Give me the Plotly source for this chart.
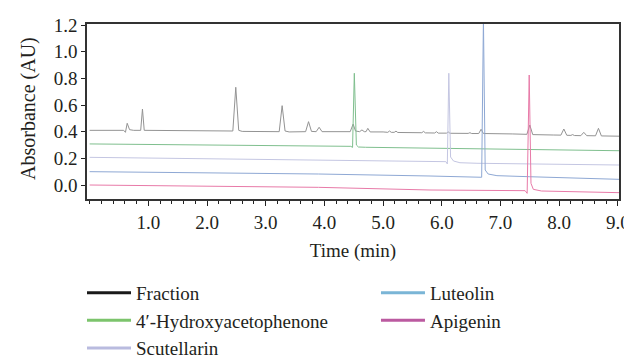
import plotly.graph_objects as go

# ---- data ----
series_names = ["Fraction", "4\u2032-Hydroxyacetophenone", "Scutellarin", "Luteolin", "Apigenin"]

fraction_t = [0.00, 0.58, 0.61, 0.64, 0.68, 0.75, 0.87, 0.90, 0.93, 1.50,
              2.20, 2.44, 2.49, 2.54, 2.60, 3.00, 3.23, 3.28, 3.33, 3.40,
              3.68, 3.73, 3.78, 3.86, 3.91, 3.96, 4.20, 4.44, 4.49, 4.53,
              4.60, 4.64, 4.68, 4.71, 4.74, 4.78, 5.00, 5.08, 5.11, 5.14,
              5.19, 5.22, 5.25, 5.66, 5.69, 5.72, 5.88, 5.91, 5.94, 6.08,
              6.11, 6.14, 6.45, 6.48, 6.51, 6.63, 6.67, 6.71, 7.20, 7.45,
              7.50, 7.55, 7.90, 8.03, 8.08, 8.13, 8.20, 8.23, 8.26, 8.37,
              8.42, 8.47, 8.62, 8.67, 8.72, 9.02]
fraction_y = [0.410, 0.410, 0.395, 0.463, 0.415, 0.410, 0.410, 0.570, 0.410, 0.410,
              0.405, 0.405, 0.733, 0.410, 0.402, 0.402, 0.400, 0.595, 0.405, 0.398,
              0.400, 0.475, 0.402, 0.400, 0.433, 0.400, 0.400, 0.400, 0.457, 0.405,
              0.400, 0.413, 0.400, 0.400, 0.425, 0.398, 0.398, 0.395, 0.405, 0.395,
              0.395, 0.404, 0.394, 0.392, 0.402, 0.391, 0.390, 0.400, 0.389, 0.389,
              0.398, 0.388, 0.387, 0.392, 0.386, 0.386, 0.418, 0.386, 0.383, 0.380,
              0.450, 0.378, 0.375, 0.374, 0.420, 0.373, 0.372, 0.378, 0.371, 0.370,
              0.395, 0.370, 0.369, 0.425, 0.368, 0.366]

hydroxy_t = [0.00, 2.00, 3.90, 4.45, 4.48, 4.51, 4.545, 4.58, 4.70, 5.80, 7.00, 9.02]
hydroxy_y = [0.308, 0.300, 0.292, 0.290, 0.282, 0.838, 0.300, 0.285, 0.283, 0.275, 0.268, 0.257]

scutellarin_t = [0.00, 2.00, 3.90, 5.00, 6.07, 6.095, 6.12, 6.15, 6.20, 6.31, 6.60, 7.50, 9.02]
scutellarin_y = [0.2075, 0.198, 0.1875, 0.182, 0.175, 0.158, 0.838, 0.210, 0.180, 0.167, 0.163, 0.158, 0.150]

luteolin_t = [0.00, 2.00, 3.90, 5.80, 6.65, 6.68, 6.71, 6.74, 6.79, 6.94, 7.50, 9.02]
luteolin_y = [0.100, 0.092, 0.0825, 0.0675, 0.0625, 0.058, 1.25, 0.1125, 0.0825, 0.070, 0.062, 0.0425]

apigenin_t = [0.00, 2.00, 3.90, 5.80, 7.42, 7.455, 7.49, 7.52, 7.56, 7.70, 9.02]
apigenin_y = [0.000, -0.008, -0.0175, -0.0375, -0.0425, -0.0625, 0.825, 0.0125, -0.0325, -0.045, -0.0575]

x_tick_vals = [1, 2, 3, 4, 5, 6, 7, 8, 9]
x_tick_text = ["1.0", "2.0", "3.0", "4.0", "5.0", "6.0", "7.0", "8.0", "9.0"]
y_tick_vals = [0.0, 0.2, 0.4, 0.6, 0.8, 1.0, 1.2]
y_tick_text = ["0.0", "0.2", "0.4", "0.6", "0.8", "1.0", "1.2"]
x_title = "Time (min)"
y_title = "Absorbance (AU)"

line_colors = ["#939393", "#7fbf8e", "#c4c6e2", "#8ea8d4", "#e87aa8"]
legend_colors = ["#1a1a1a", "#7cc46c", "#b9bbdf", "#7ab5d6", "#bb5aa0"]
legend_column = ["legend", "legend", "legend", "legend2", "legend2"]

FONT = "Liberation Serif, Times New Roman, serif"
TXT = "#231f20"

fig = go.Figure()
all_t = [fraction_t, hydroxy_t, scutellarin_t, luteolin_t, apigenin_t]
all_y = [fraction_y, hydroxy_y, scutellarin_y, luteolin_y, apigenin_y]
for name, t, y, c in zip(series_names, all_t, all_y, line_colors):
    fig.add_trace(go.Scatter(x=t, y=y, mode="lines", name=name, showlegend=False,
                             line=dict(color=c, width=1), hoverinfo="skip"))
for name, c, lg in zip(series_names, legend_colors, legend_column):
    fig.add_trace(go.Scatter(x=[None], y=[None], mode="lines", name=name,
                             line=dict(color=c, width=3), legend=lg))

legend_common = dict(orientation="v", xref="container", yref="container",
                     xanchor="left", yanchor="top", traceorder="normal",
                     font=dict(family=FONT, size=19, color=TXT),
                     bgcolor="rgba(0,0,0,0)", itemwidth=44, tracegroupgap=0)

# page body adds an 8px offset, so the figure is 8px smaller and margins shifted
fig.update_layout(
    width=624, height=347,
    margin=dict(l=79, r=13, t=16, b=156, autoexpand=False),
    paper_bgcolor="white", plot_bgcolor="white",
    font=dict(family=FONT, size=19, color=TXT),
    showlegend=True,
    legend=dict(x=0.1186, y=0.234, **legend_common),
    legend2=dict(x=0.5897, y=0.234, **legend_common),
    xaxis=dict(range=[-0.045, 9.02], tickvals=x_tick_vals, ticktext=x_tick_text,
               ticks="outside", ticklen=5, tickwidth=1.3, tickcolor="#222",
               minor=dict(dtick=0.2, tick0=0, ticks="outside", ticklen=3, tickwidth=1.1, tickcolor="#222"),
               showline=True, linecolor="#333", linewidth=1.5, mirror=True,
               showgrid=False, zeroline=False,
               title=dict(text=x_title, standoff=12,
                          font=dict(family=FONT, size=19, color=TXT)),
               tickfont=dict(family=FONT, size=19, color=TXT)),
    yaxis=dict(range=[-0.105, 1.2075], tickvals=y_tick_vals, ticktext=y_tick_text,
               ticks="outside", ticklen=4, tickwidth=1.3, tickcolor="#222",
               showline=True, linecolor="#333", linewidth=1.5, mirror=True,
               showgrid=False, zeroline=False,
               tickfont=dict(family=FONT, size=19, color=TXT)),
    annotations=[dict(text=y_title, textangle=-90, xref="paper", yref="paper",
                      x=-0.111, y=0.52, xanchor="center", yanchor="middle",
                      showarrow=False, font=dict(family=FONT, size=20, color=TXT))],
)

fig.write_html("out.html")
